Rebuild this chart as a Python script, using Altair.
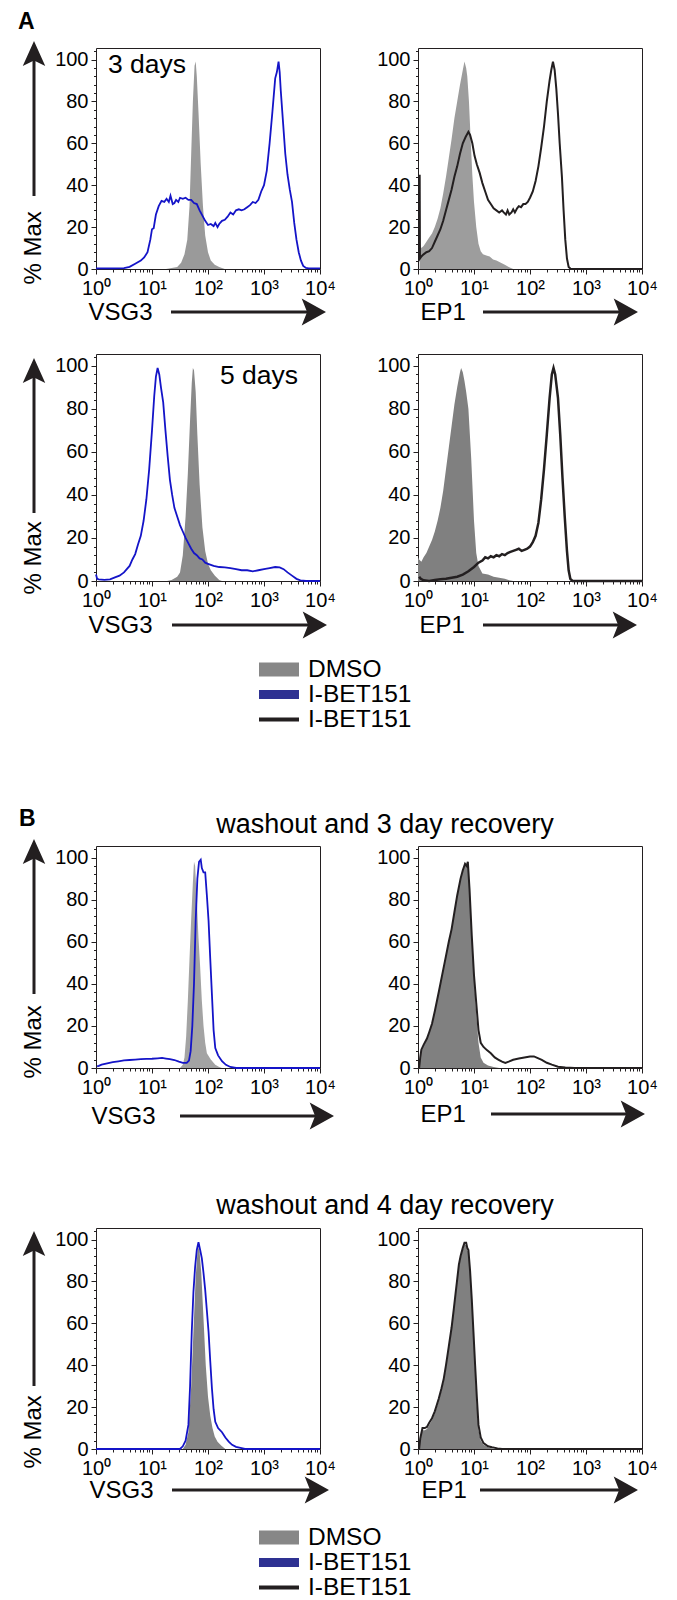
import math
import altair as alt
import pandas as pd

FONT = "Liberation Sans"
INK = "#231f20"
BLUE = "#1414c8"
LEG_GRAY = "#878787"
LEG_BLUE = "#2e3192"

# ---------------- data (x = log10 of fluorescence, y = % of max) ----------------
# A, 3 days, VSG3
A1_DMSO_X = [1.25, 1.35, 1.45, 1.52, 1.58, 1.63, 1.67, 1.70, 1.73, 1.76, 1.78, 1.80, 1.83, 1.87, 1.91, 1.95, 2.0, 2.05, 2.12, 2.2, 2.3]
A1_DMSO_Y = [0, 0.5, 1, 3, 7, 14, 30, 55, 80, 97, 99, 92, 75, 50, 30, 16, 8, 4, 2, 1, 0]
A1_IBET_X = [0, 0.3, 0.5, 0.6, 0.7, 0.8, 0.86, 0.92, 0.97, 1.0, 1.03, 1.07, 1.12, 1.17, 1.22, 1.26, 1.3, 1.33, 1.37, 1.4,
             1.43, 1.47, 1.5, 1.55, 1.6, 1.65, 1.7, 1.75, 1.8, 1.85, 1.9, 1.95, 2.0, 2.05, 2.1, 2.13, 2.17, 2.2, 2.25, 2.3,
             2.35, 2.4, 2.45, 2.5, 2.55, 2.6, 2.65, 2.7, 2.75, 2.8, 2.85, 2.9, 2.95, 3.0, 3.05, 3.1, 3.15, 3.2, 3.23, 3.26,
             3.28, 3.3, 3.34, 3.38, 3.42, 3.46, 3.5, 3.54, 3.58, 3.62, 3.66, 3.7, 3.75, 3.8, 4.0]
A1_IBET_Y = [0.3, 0.3, 0.4, 1, 2.5, 4, 5.5, 8, 14, 19, 19.5, 26, 30, 32.5, 32, 33.5, 32, 35, 31, 31.5,
             33, 32, 34, 33.5, 34, 33, 33, 31.5, 31, 28, 25.5, 23, 21, 21.5, 20.5, 22, 20, 21.5, 23, 23.5,
             25, 27, 26, 28, 28.5, 28, 28.5, 29.5, 30.5, 32, 31.5, 33, 37, 40, 47, 60, 75, 91, 94, 99,
             94, 85, 70, 55, 45, 38, 32, 22, 14, 8, 4, 1.5, 0.5, 0.3, 0.3]

# A, 3 days, EP1
A2_DMSO_X = [0.03, 0.06, 0.1, 0.15, 0.2, 0.25, 0.3, 0.35, 0.4, 0.45, 0.5, 0.55, 0.6, 0.65, 0.7, 0.75, 0.8, 0.83, 0.86, 0.88,
             0.91, 0.94, 0.97, 1.0, 1.04, 1.08, 1.12, 1.16, 1.22, 1.28, 1.34, 1.4, 1.48, 1.55, 1.62, 1.7]
A2_DMSO_Y = [12, 10, 11, 13, 15, 17, 20, 24, 29, 36, 44, 53, 62, 72, 80, 88, 95, 99, 96, 92,
             80, 62, 45, 32, 20, 12, 8.5, 7, 6.5, 6, 4.5, 4, 3, 2, 1, 0]
A2_IBET_X = [0.03, 0.035, 0.06, 0.1, 0.15, 0.2, 0.25, 0.3, 0.35, 0.4, 0.45, 0.5, 0.55, 0.6, 0.65, 0.7, 0.75, 0.8, 0.85, 0.9,
             0.93, 0.97, 1.01, 1.05, 1.1, 1.15, 1.2, 1.25, 1.3, 1.35, 1.4, 1.45, 1.5, 1.53, 1.57, 1.6, 1.63, 1.67, 1.7, 1.73,
             1.77, 1.8, 1.84, 1.88, 1.92, 1.96, 2.0, 2.05, 2.1, 2.15, 2.2, 2.25, 2.3, 2.35, 2.38, 2.41, 2.44, 2.47, 2.5, 2.53,
             2.57, 2.6, 2.63, 2.66, 2.69, 2.73, 3.0, 4.0]
A2_IBET_Y = [45, 5, 6, 7, 8, 8.5, 10, 13, 16, 19, 23, 28, 33, 38, 44, 49, 55, 60, 63, 65.5,
             64, 60, 54, 50, 46, 41, 37, 33, 31, 29, 28, 27, 28, 27, 26, 28, 26, 27, 28.5, 27,
             29, 30, 29.5, 31, 31, 32, 34, 37, 42, 49, 58, 68, 80, 90, 95, 99, 95, 86, 74, 60,
             44, 28, 14, 5, 1, 0, 0, 0]

# A, 5 days, VSG3
A3_DMSO_X = [1.27, 1.35, 1.45, 1.5, 1.55, 1.6, 1.64, 1.68, 1.71, 1.73, 1.75, 1.78, 1.81, 1.85, 1.9, 1.95, 2.0, 2.05, 2.12, 2.2, 2.25]
A3_DMSO_Y = [0, 0.5, 2, 4, 12, 30, 50, 75, 92, 99, 98, 88, 68, 45, 25, 14, 8, 5, 2.5, 0.5, 0]
A3_IBET_X = [0.0, 0.02, 0.05, 0.15, 0.25, 0.35, 0.42, 0.5, 0.55, 0.6, 0.65, 0.7, 0.75, 0.8, 0.85, 0.9, 0.95, 1.0, 1.04, 1.07,
             1.1, 1.13, 1.16, 1.2, 1.24, 1.28, 1.32, 1.36, 1.4, 1.45, 1.5, 1.55, 1.6, 1.65, 1.7, 1.75, 1.8, 1.85, 1.9, 1.95,
             2.0, 2.1, 2.2, 2.3, 2.4, 2.5, 2.6, 2.7, 2.8, 2.9, 3.0, 3.1, 3.2, 3.28, 3.35, 3.42, 3.5, 3.58, 3.65, 3.75, 4.0]
A3_IBET_Y = [3, 1, 0.8, 0.5, 0.8, 1.8, 2.5, 4, 5.5, 7, 10, 12.5, 17, 21, 28, 38, 52, 70, 86, 95,
             99, 96, 90, 83, 70, 58, 47, 40, 34, 30, 26, 23, 20, 17.5, 15, 13, 12, 10.5, 10, 8.5,
             8, 7, 6.5, 6.3, 6, 5.5, 5, 5, 4.5, 5, 5.5, 6, 6.5, 6.3, 5.5, 4, 2.5, 1, 0.3, 0, 0]

# A, 5 days, EP1
A4_DMSO_X = [0.0, 0.02, 0.06, 0.1, 0.15, 0.2, 0.25, 0.3, 0.35, 0.4, 0.45, 0.5, 0.55, 0.6, 0.65, 0.7, 0.75, 0.77, 0.8, 0.83,
             0.86, 0.9, 0.95, 1.0, 1.04, 1.08, 1.15, 1.25, 1.35, 1.45, 1.55, 1.63, 1.7]
A4_DMSO_Y = [11, 10, 9, 11, 13, 16, 19, 23, 28, 34, 42, 52, 62, 72, 82, 90, 97, 99, 97, 93,
             88, 80, 57, 28, 13, 7, 3.5, 3, 2, 1.5, 1, 0.3, 0]
A4_IBET_X = [0.02, 0.05, 0.1, 0.2, 0.3, 0.4, 0.5, 0.6, 0.7, 0.8, 0.9, 1.0, 1.08, 1.15, 1.2, 1.25, 1.3, 1.35, 1.4, 1.45,
             1.5, 1.55, 1.6, 1.65, 1.7, 1.75, 1.8, 1.85, 1.9, 1.95, 2.0, 2.05, 2.1, 2.15, 2.2, 2.25, 2.3, 2.35, 2.39, 2.42,
             2.45, 2.5, 2.54, 2.58, 2.62, 2.66, 2.69, 2.72, 2.76, 4.0]
A4_IBET_Y = [2, 1, 0.3, 0, 0.5, 0.8, 1, 1.5, 2, 3, 4.5, 6.5, 8.5, 9.5, 11, 10.5, 11.5, 11, 12, 11.5,
             12.5, 12, 13, 13.5, 14, 14.5, 15, 14, 14.5, 15, 16, 18, 21, 27, 38, 52, 68, 85, 96, 99,
             96, 85, 68, 48, 30, 14, 5, 1, 0, 0]

# B, washout and 3 day recovery, VSG3
B1_DMSO_X = [1.5, 1.55, 1.58, 1.61, 1.64, 1.67, 1.7, 1.73, 1.75, 1.77, 1.8, 1.83, 1.86, 1.89, 1.92, 1.95, 1.98, 2.05, 2.13, 2.2, 2.25]
B1_DMSO_Y = [0, 1.5, 5, 15, 32, 52, 71, 88, 98, 96, 80, 62, 48, 32, 20, 12, 7, 4, 1.6, 0.5, 0]
B1_IBET_X = [0.02, 0.05, 0.1, 0.2, 0.3, 0.4, 0.5, 0.6, 0.7, 0.8, 0.9, 1.0, 1.1, 1.18, 1.25, 1.32, 1.4, 1.48, 1.55, 1.62,
             1.66, 1.69, 1.72, 1.75, 1.78, 1.81, 1.84, 1.87, 1.89, 1.92, 1.95, 1.98, 2.01, 2.04, 2.07, 2.1, 2.13, 2.18, 2.25, 2.32,
             2.4, 2.5, 4.0]
B1_IBET_Y = [0.8, 1, 1.6, 2.2, 2.8, 3.2, 3.6, 3.8, 4, 4.2, 4.3, 4.4, 4.6, 4.8, 4.5, 4.2, 3.8, 3, 2.4, 2.4,
             3.5, 8, 20, 40, 70, 90, 98, 99, 95, 93, 93, 82, 70, 52, 35, 18, 9.5, 6, 3.2, 1.5,
             0.5, 0, 0]

# B, washout and 3 day recovery, EP1
B2_DMSO_X = [0.02, 0.04, 0.06, 0.1, 0.16, 0.2, 0.25, 0.3, 0.37, 0.43, 0.49, 0.55, 0.6, 0.65, 0.7, 0.76, 0.8, 0.84, 0.87, 0.89,
             0.92, 0.96, 1.0, 1.04, 1.08, 1.12, 1.17, 1.25, 1.35, 1.45]
B2_DMSO_Y = [0, 4, 8, 10.5, 13.5, 16.5, 20.5, 26.5, 35.5, 43.5, 51.5, 59.5, 65.5, 73.5, 81.5, 89.5, 93.5, 96.5, 95.5, 97,
             84, 62, 42, 26, 12, 5, 2.5, 1.2, 0.5, 0]
B2_IBET_X = [0.02, 0.04, 0.06, 0.1, 0.16, 0.2, 0.25, 0.3, 0.37, 0.43, 0.49, 0.55, 0.6, 0.65, 0.7, 0.76, 0.8, 0.84, 0.87, 0.89,
             0.92, 0.96, 1.0, 1.04, 1.08, 1.12, 1.17, 1.23, 1.3, 1.37, 1.44, 1.5, 1.56, 1.62, 1.7, 1.8, 1.9, 2.0, 2.07, 2.14,
             2.21, 2.3, 2.39, 2.5, 2.63, 2.8, 4.0]
B2_IBET_Y = [0, 5, 8.7, 11, 14, 17, 21, 27, 36, 44, 52, 60, 66, 74, 82, 90, 94, 97, 96, 98,
             85, 63, 44, 31, 18, 12, 10, 8.5, 7, 5, 3.9, 3, 2.4, 3, 3.9, 4.5, 5, 5.5, 5.5, 4.7,
             3.9, 2.5, 1.6, 0.6, 0.2, 0, 0]

# B, washout and 4 day recovery, VSG3
B3_DMSO_X = [1.55, 1.6, 1.65, 1.7, 1.74, 1.78, 1.82, 1.85, 1.88, 1.92, 1.96, 2.0, 2.04, 2.08, 2.12, 2.17, 2.24, 2.31]
B3_DMSO_Y = [0, 2, 8, 30, 56, 82, 97, 94, 84, 62, 40, 25, 16, 10, 6, 3.5, 1.5, 0]
B3_IBET_X = [0, 1.5, 1.55, 1.6, 1.65, 1.68, 1.71, 1.74, 1.77, 1.8, 1.83, 1.86, 1.89, 1.92, 1.95, 1.98, 2.01, 2.04, 2.07, 2.1,
             2.13, 2.18, 2.25, 2.31, 2.37, 2.43, 2.5, 2.58, 2.66, 4.0]
B3_IBET_Y = [0, 0, 1.3, 4, 11.5, 30, 56, 75, 87, 95, 98.7, 95, 91, 84, 76, 66, 56, 42, 29, 19,
             13, 10, 8, 5.5, 3.5, 2, 1, 0.5, 0, 0]

# B, washout and 4 day recovery, EP1
B4_DMSO_X = [0.02, 0.04, 0.08, 0.12, 0.16, 0.2, 0.25, 0.3, 0.37, 0.42, 0.46, 0.5, 0.55, 0.6, 0.64, 0.67, 0.7, 0.73, 0.76, 0.8,
             0.83, 0.86, 0.88, 0.9, 0.93, 0.96, 0.99, 1.02, 1.05, 1.08, 1.12, 1.17, 1.25, 1.35]
B4_DMSO_Y = [0, 4, 9, 9, 9.5, 11.5, 13.7, 17, 23, 28, 32.5, 39, 48, 57, 66, 73, 80, 87, 91, 95,
             97.4, 97.4, 95, 94, 84, 70, 54, 37, 21, 9, 4, 2, 0.8, 0]
B4_IBET_X = [0.02, 0.04, 0.08, 0.12, 0.16, 0.2, 0.25, 0.3, 0.37, 0.42, 0.46, 0.5, 0.55, 0.6, 0.64, 0.67, 0.7, 0.73, 0.76, 0.8,
             0.83, 0.86, 0.88, 0.9, 0.93, 0.96, 0.99, 1.02, 1.05, 1.08, 1.12, 1.17, 1.25, 1.32, 1.42, 1.5, 4.0]
B4_IBET_Y = [0, 5, 10, 10, 10.5, 12.5, 14.7, 18, 24, 29, 33.6, 40, 49, 58, 67, 74, 81, 88, 92, 96,
             98.4, 98.4, 96, 95, 85, 71.6, 56, 40, 25, 11.5, 5.5, 2.8, 1.3, 0.8, 0.3, 0, 0]

# ---------------- axes / labels ----------------
X_TICKS = [0, 1, 2, 3, 4]
X_TICK_LABELS = ["10\u2070", "10\u00b9", "10\u00b2", "10\u00b3", "10\u2074"]
X_MINOR = [k + math.log10(m) for k in range(4) for m in range(2, 10)]
Y_TICKS = [0, 20, 40, 60, 80, 100]
Y_MINOR = [v for v in range(4, 105, 4) if v % 20 != 0]
Y_TOP = 105.5

LEG_KEYS = ["DMSO", "I-BET151 (VSG3)", "I-BET151 (EP1)"]
LEG_LABELS = ["DMSO", "I-BET151", "I-BET151"]
LEG_COLORS = [LEG_GRAY, LEG_BLUE, INK]
LEG_WIDTHS = [14, 4, 4]

X_LABEL_EXPR = "[" + ",".join("'%s'" % s for s in X_TICK_LABELS) + "][datum.value]"

ONE = pd.DataFrame({"k": [0]})
VPATH = "M0,-1L0.9,1L0,0.55L-0.9,1Z"
HPATH = "M0.9,0L-0.9,-1L-0.5,0L-0.9,1Z"


def curve(xs, ys):
    return pd.DataFrame({"x": xs, "y": ys})


def panel(fx, fy, fcol, lx, ly, lcol, lw, xlabel, h, left, xa, ya=None, texts=()):
    xs = alt.Scale(domain=[0, 4], nice=False, zero=False)
    ys = alt.Scale(domain=[0, Y_TOP], nice=False)
    x_major = alt.Axis(orient="bottom", values=X_TICKS, labelExpr=X_LABEL_EXPR, tickSize=5,
                       tickColor=INK, domain=False, grid=False, labelFontSize=20, labelPadding=4,
                       labelFlush=False, labelOverlap=False, labelColor="black", labelFont=FONT,
                       title=xlabel, titleFont=FONT, titleFontSize=24, titleFontWeight="normal",
                       titleColor="black", titleX=xa["text"], titleY=xa["y"], titleAlign="left",
                       titleBaseline="middle")
    x_minor = alt.Axis(orient="bottom", values=X_MINOR, labels=False, tickSize=3, tickColor=INK,
                       domain=False, grid=False, title="")
    yargs = dict(orient="left", values=Y_TICKS, tickSize=5, tickColor=INK, domain=False, grid=False,
                 labelFontSize=20, labelPadding=3, labelColor="black", labelFont=FONT, labelOverlap=False)
    if left:
        y_major = alt.Axis(title="% Max", titleFont=FONT, titleFontSize=24, titleFontWeight="normal",
                           titleColor="black", titleAngle=270, titleX=-63, titleY=ya["text"],
                           titleAlign="left", titleBaseline="middle", **yargs)
    else:
        y_major = alt.Axis(title="", **yargs)
    y_minor = alt.Axis(orient="left", values=Y_MINOR, labels=False, tickSize=2.5, tickColor=INK,
                       domain=False, grid=False, title="")

    area = alt.Chart(curve(fx, fy)).mark_area(color=fcol, opacity=1).encode(
        x=alt.X("x:Q", scale=xs, axis=x_major), y=alt.Y("y:Q", scale=ys, axis=y_major))
    line = alt.Chart(curve(lx, ly)).mark_line(color=lcol, strokeWidth=lw).encode(
        x=alt.X("x:Q", scale=xs, axis=x_minor), y=alt.Y("y:Q", scale=ys, axis=y_minor))
    layers = [area, line]

    # horizontal axis arrow
    ay = h + xa["y"]
    layers.append(alt.Chart(ONE).mark_rule(color=INK, strokeWidth=3).encode(
        x=alt.value(xa["start"]), x2=alt.value(xa["tip"] - 12), y=alt.value(ay)))
    layers.append(alt.Chart(ONE).mark_point(shape=HPATH, size=27 * 27, filled=True, color=INK,
                                            opacity=1, strokeWidth=0).encode(
        x=alt.value(xa["tip"] - 12.15), y=alt.value(ay)))
    if left:
        layers.append(alt.Chart(ONE).mark_rule(color=INK, strokeWidth=3).encode(
            x=alt.value(-62), y=alt.value(ya["tip"] + 12), y2=alt.value(ya["tip"] + 155)))
        layers.append(alt.Chart(ONE).mark_point(shape=VPATH, size=25 * 25, filled=True, color=INK,
                                                opacity=1, strokeWidth=0).encode(
            x=alt.value(-62), y=alt.value(ya["tip"] + 12.5)))
    for t in texts:
        layers.append(alt.Chart(ONE).mark_text(text=t["text"], font=FONT, fontSize=t["size"],
                                               fontWeight=t.get("weight", "normal"), color="black",
                                               align=t["align"], baseline=t["baseline"]).encode(
            x=alt.value(t["x"]), y=alt.value(t["y"])))
    return alt.layer(*layers).resolve_axis(x="independent", y="independent").properties(
        width=224, height=h, view=alt.ViewBackground(stroke=INK, strokeWidth=1))


def spacer(h):
    return alt.Chart(ONE).mark_point(opacity=0).encode(x=alt.value(0), y=alt.value(0)).properties(
        width=1, height=h)


def legend():
    d = pd.DataFrame({"key": LEG_KEYS, "label": LEG_LABELS, "idx": [0, 1, 2]})
    y = alt.Y("idx:O", axis=None, scale=alt.Scale(paddingInner=0, paddingOuter=0))
    sym = alt.Chart(d).mark_rule(strokeCap="butt").encode(
        x=alt.value(163), x2=alt.value(203), y=y,
        color=alt.Color("key:N", scale=alt.Scale(domain=LEG_KEYS, range=LEG_COLORS), legend=None),
        strokeWidth=alt.StrokeWidth("idx:O", scale=alt.Scale(domain=[0, 1, 2], range=LEG_WIDTHS),
                                    legend=None))
    txt = alt.Chart(d).mark_text(align="left", baseline="middle", font=FONT, fontSize=24.5,
                                 color="black").encode(x=alt.value(212), y=y, text="label:N")
    return alt.layer(sym, txt).properties(width=224, height=75)


def lbl(text, x, y, size=24, weight="normal", align="left", baseline="alphabetic"):
    return {"text": text, "x": x, "y": y, "size": size, "weight": weight, "align": align,
            "baseline": baseline}


H1, H2, H3, H4 = 221, 227, 222, 221

p1 = panel(A1_DMSO_X, A1_DMSO_Y, "#9a9a9a", A1_IBET_X, A1_IBET_Y, BLUE, 1.8, "VSG3", H1, True,
           {"text": -8, "y": 43, "start": 75, "tip": 230}, {"tip": -7, "text": 236},
           [lbl("A", -78, -37, 23, "bold", "left", "top"), lbl("3 days", 12, 25, 26.5)])
p2 = panel(A2_DMSO_X, A2_DMSO_Y, "#9d9d9d", A2_IBET_X, A2_IBET_Y, INK, 2, "EP1", H1, False,
           {"text": 2, "y": 43, "start": 65, "tip": 220})
p3 = panel(A3_DMSO_X, A3_DMSO_Y, "#8a8a8a", A3_IBET_X, A3_IBET_Y, BLUE, 1.8, "VSG3", H2, True,
           {"text": -8, "y": 44, "start": 76, "tip": 231}, {"tip": 4, "text": 240},
           [lbl("5 days", 124, 30, 26.5)])
p4 = panel(A4_DMSO_X, A4_DMSO_Y, "#808080", A4_IBET_X, A4_IBET_Y, INK, 2.5, "EP1", H2, False,
           {"text": 1, "y": 44, "start": 65, "tip": 219})
p5 = panel(B1_DMSO_X, B1_DMSO_Y, "#a3a3a3", B1_IBET_X, B1_IBET_Y, BLUE, 1.8, "VSG3", H3, True,
           {"text": -5, "y": 48, "start": 84, "tip": 238}, {"tip": -7, "text": 232},
           [lbl("B", -77, -38, 23, "bold", "left", "top"),
            lbl("washout and 3 day recovery", 289, -13, 27, "normal", "center")])
p6 = panel(B2_DMSO_X, B2_DMSO_Y, "#808080", B2_IBET_X, B2_IBET_Y, INK, 2, "EP1", H3, False,
           {"text": 2, "y": 46, "start": 73, "tip": 227})
p7 = panel(B3_DMSO_X, B3_DMSO_Y, "#858585", B3_IBET_X, B3_IBET_Y, BLUE, 1.8, "VSG3", H4, True,
           {"text": -7, "y": 41, "start": 76, "tip": 233}, {"tip": 3, "text": 240},
           [lbl("washout and 4 day recovery", 289, -14, 27, "normal", "center")])
p8 = panel(B4_DMSO_X, B4_DMSO_Y, "#808080", B4_IBET_X, B4_IBET_Y, INK, 2, "EP1", H4, False,
           {"text": 3, "y": 41, "start": 62, "tip": 220})

cells = [
    p1, p2,
    spacer(85), spacer(85),
    p3, p4,
    spacer(76), spacer(76),
    legend(), spacer(75),
    spacer(114), spacer(114),
    p5, p6,
    spacer(160), spacer(160),
    p7, p8,
    spacer(76), spacer(76),
    legend(), spacer(75),
]

chart = alt.concat(
    *cells, columns=2, spacing={"row": 0, "column": 98}, bounds="flush",
).properties(
    padding={"left": 9, "top": 2, "right": 5, "bottom": 0}
).configure(
    font=FONT, view=alt.ViewConfig(stroke="transparent")
)

chart.save("out.html", embed_options={"renderer": "svg", "actions": False})
